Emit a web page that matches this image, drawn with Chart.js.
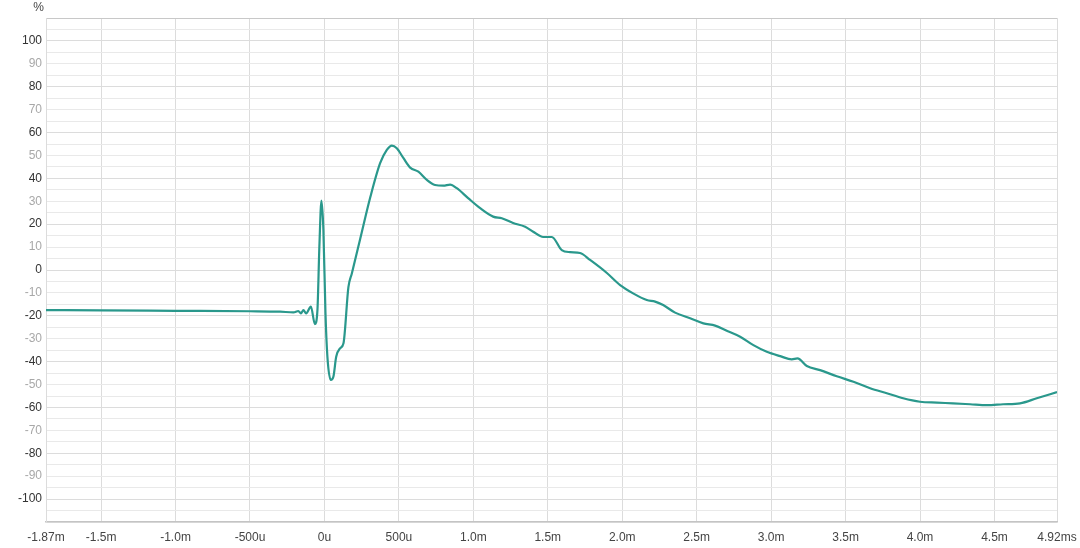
<!DOCTYPE html>
<html>
<head>
<meta charset="utf-8">
<script src="https://cdn.jsdelivr.net/npm/chart.js@4/dist/chart.umd.min.js"></script>
<style>
  html, body { margin: 0; padding: 0; background: #fff; }
  #wrap { width: 1080px; height: 548px; position: relative; }
</style>
</head>
<body>
<div id="wrap"><canvas id="chart"></canvas></div>
<script>
// Time axis in ms
const timeMs = [
    -1.87, -1.5, -1.0, -0.5, -0.298, -0.208, -0.175, -0.158, -0.141, -0.123,
    -0.091, -0.064, -0.047, -0.034, -0.020, -0.007, 0.007, 0.020, 0.043, 0.060,
    0.079, 0.105, 0.128, 0.161, 0.184, 0.240, 0.307, 0.374, 0.419, 0.453,
    0.486, 0.531, 0.576, 0.631, 0.688, 0.743, 0.799, 0.844, 0.889, 0.965,
    1.046, 1.133, 1.191, 1.267, 1.348, 1.402, 1.469, 1.527, 1.594, 1.650,
    1.717, 1.784, 1.897, 1.986, 2.073, 2.165, 2.221, 2.275, 2.355, 2.456,
    2.545, 2.624, 2.702, 2.792, 2.881, 2.971, 3.061, 3.139, 3.177, 3.240,
    3.329, 3.441, 3.553, 3.665, 3.777, 3.887, 4.000, 4.113, 4.222, 4.337,
    4.449, 4.558, 4.672, 4.784, 4.92
];

// Step response in %
const responsePct = [
    -17.5, -17.6, -17.8, -18.0, -18.2, -18.5, -17.9, -18.9, -17.5, -18.9,
    -16.0, -23.6, -17.5, 10.2, 30.3, 17.5, -18.9, -37.9, -48.0, -46.6,
    -37.9, -34.2, -32.0, -7.5, -1.5, 13.5, 31.5, 46.6, 52.4, 54.3,
    53.1, 48.8, 44.7, 42.9, 39.3, 37.1, 36.8, 37.3, 35.7, 31.4,
    27.0, 23.3, 22.6, 20.5, 18.9, 16.7, 14.4, 14.4, 8.7, 7.8,
    7.4, 4.4, -1.3, -6.6, -10.2, -13.1, -13.8, -15.3, -18.6, -21.1,
    -23.3, -24.3, -26.5, -29.1, -32.8, -35.7, -37.6, -39.0, -38.6, -41.9,
    -43.7, -46.4, -48.8, -51.6, -53.8, -56.0, -57.5, -57.9, -58.2, -58.6,
    -59.0, -58.6, -58.2, -56.0, -53.3
];

// Tick labels
const xTickValues = [-1.87, -1.5, -1.0, -0.5, 0, 0.5, 1.0, 1.5, 2.0, 2.5, 3.0, 3.5, 4.0, 4.5, 4.92];
const xTickLabels = ['-1.87m', '-1.5m', '-1.0m', '-500u', '0u', '500u', '1.0m', '1.5m', '2.0m', '2.5m', '3.0m', '3.5m', '4.0m', '4.5m', '4.92ms'];

const FONT = '"Liberation Sans", Arial, sans-serif';

// Draws the "%" unit label above the y axis
const unitLabel = {
    id: 'unitLabel',
    afterDraw(chart) {
        const ctx = chart.ctx;
        ctx.save();
        ctx.font = '12px ' + FONT;
        ctx.fillStyle = '#444';
        ctx.textAlign = 'right';
        ctx.textBaseline = 'middle';
        ctx.fillText('%', chart.chartArea.left - 2, 8);
        ctx.restore();
    }
};

new Chart(document.getElementById('chart'), {
    type: 'scatter',
    data: {
        datasets: [{
            data: timeMs.map((t, i) => ({ x: t, y: responsePct[i] })),
            showLine: true,
            borderColor: '#2a988c',
            borderWidth: 2.2,
            pointRadius: 0,
            cubicInterpolationMode: 'monotone'
        }]
    },
    options: {
        responsive: true,
        maintainAspectRatio: false,
        animation: false,
        layout: { padding: { top: 18, right: 23, left: 0, bottom: 0 } },
        plugins: {
            legend: { display: false },
            tooltip: { enabled: false }
        },
        scales: {
            x: {
                type: 'linear',
                min: -1.87,
                max: 4.92,
                afterBuildTicks: axis => {
                    axis.ticks = xTickValues.map(v => ({ value: v }));
                },
                afterFit: axis => {
                    axis.height = 26;
                    axis.paddingLeft = 0;
                    axis.paddingRight = 0;
                },
                grid: {
                    color: '#dcdcdc',
                    drawTicks: false
                },
                border: { color: '#c4c4c4', width: 1.5 },
                ticks: {
                    padding: 8,
                    maxRotation: 0,
                    autoSkip: false,
                    color: '#444',
                    font: { family: FONT, size: 12 },
                    callback: (value) => {
                        const i = xTickValues.findIndex(v => Math.abs(v - value) < 1e-6);
                        return i >= 0 ? xTickLabels[i] : '';
                    }
                }
            },
            y: {
                min: -110,
                max: 110,
                afterFit: axis => { axis.width = 46; },
                grid: {
                    drawTicks: false,
                    color: ctx => {
                        const v = ctx.tick.value;
                        if (v === 110) return '#c8c8c8';
                        if (v % 20 === 0) return '#dcdcdc';
                        return '#e9e9e9';
                    }
                },
                border: { color: '#dcdcdc' },
                ticks: {
                    stepSize: 5,
                    padding: 4,
                    autoSkip: false,
                    font: { family: FONT, size: 12 },
                    color: ctx => (ctx.tick.value % 20 === 0 ? '#333' : '#a8a8a8'),
                    callback: value => (value % 10 === 0 && Math.abs(value) <= 100 ? String(value) : '')
                }
            }
        }
    },
    plugins: [unitLabel]
});
</script>
</body>
</html>
